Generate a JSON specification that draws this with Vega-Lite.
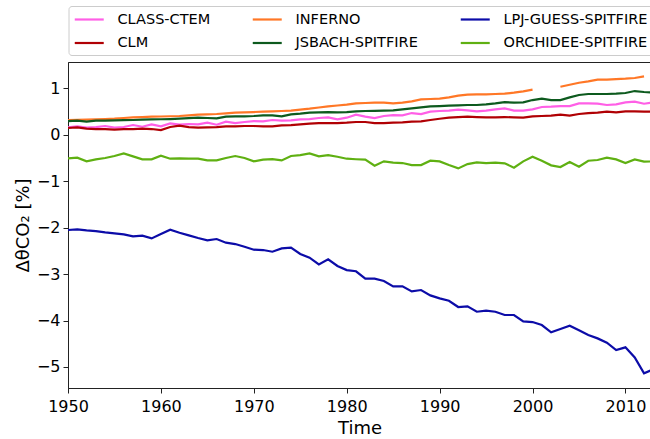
{
  "$schema": "https://vega.github.io/schema/vega-lite/v6.json",
  "width": 583,
  "height": 326,
  "autosize": {"type": "none"},
  "padding": {"left": 68, "top": 62, "right": 0, "bottom": 51},
  "background": "white",
  "config": {
    "font": "DejaVu Sans",
    "view": {"stroke": "#222", "strokeWidth": 1}
  },
  "data": {
    "values": [
      {"year": 1950, "CLASS-CTEM": 0.158, "CLM": 0.144, "INFERNO": 0.316, "JSBACH-SPITFIRE": 0.294, "LPJ-GUESS-SPITFIRE": -2.052, "ORCHIDEE-SPITFIRE": -0.510},
      {"year": 1951, "CLASS-CTEM": 0.179, "CLM": 0.158, "INFERNO": 0.320, "JSBACH-SPITFIRE": 0.301, "LPJ-GUESS-SPITFIRE": -2.038, "ORCHIDEE-SPITFIRE": -0.495},
      {"year": 1952, "CLASS-CTEM": 0.151, "CLM": 0.129, "INFERNO": 0.325, "JSBACH-SPITFIRE": 0.280, "LPJ-GUESS-SPITFIRE": -2.060, "ORCHIDEE-SPITFIRE": -0.574},
      {"year": 1953, "CLASS-CTEM": 0.165, "CLM": 0.122, "INFERNO": 0.330, "JSBACH-SPITFIRE": 0.301, "LPJ-GUESS-SPITFIRE": -2.074, "ORCHIDEE-SPITFIRE": -0.531},
      {"year": 1954, "CLASS-CTEM": 0.187, "CLM": 0.122, "INFERNO": 0.335, "JSBACH-SPITFIRE": 0.305, "LPJ-GUESS-SPITFIRE": -2.103, "ORCHIDEE-SPITFIRE": -0.502},
      {"year": 1955, "CLASS-CTEM": 0.151, "CLM": 0.108, "INFERNO": 0.344, "JSBACH-SPITFIRE": 0.309, "LPJ-GUESS-SPITFIRE": -2.124, "ORCHIDEE-SPITFIRE": -0.459},
      {"year": 1956, "CLASS-CTEM": 0.165, "CLM": 0.122, "INFERNO": 0.360, "JSBACH-SPITFIRE": 0.312, "LPJ-GUESS-SPITFIRE": -2.146, "ORCHIDEE-SPITFIRE": -0.402},
      {"year": 1957, "CLASS-CTEM": 0.208, "CLM": 0.122, "INFERNO": 0.373, "JSBACH-SPITFIRE": 0.316, "LPJ-GUESS-SPITFIRE": -2.189, "ORCHIDEE-SPITFIRE": -0.466},
      {"year": 1958, "CLASS-CTEM": 0.172, "CLM": 0.129, "INFERNO": 0.380, "JSBACH-SPITFIRE": 0.323, "LPJ-GUESS-SPITFIRE": -2.174, "ORCHIDEE-SPITFIRE": -0.531},
      {"year": 1959, "CLASS-CTEM": 0.222, "CLM": 0.122, "INFERNO": 0.388, "JSBACH-SPITFIRE": 0.330, "LPJ-GUESS-SPITFIRE": -2.232, "ORCHIDEE-SPITFIRE": -0.531},
      {"year": 1960, "CLASS-CTEM": 0.179, "CLM": 0.100, "INFERNO": 0.392, "JSBACH-SPITFIRE": 0.333, "LPJ-GUESS-SPITFIRE": -2.139, "ORCHIDEE-SPITFIRE": -0.452},
      {"year": 1961, "CLASS-CTEM": 0.244, "CLM": 0.165, "INFERNO": 0.397, "JSBACH-SPITFIRE": 0.337, "LPJ-GUESS-SPITFIRE": -2.045, "ORCHIDEE-SPITFIRE": -0.517},
      {"year": 1962, "CLASS-CTEM": 0.215, "CLM": 0.194, "INFERNO": 0.402, "JSBACH-SPITFIRE": 0.344, "LPJ-GUESS-SPITFIRE": -2.110, "ORCHIDEE-SPITFIRE": -0.510},
      {"year": 1963, "CLASS-CTEM": 0.230, "CLM": 0.165, "INFERNO": 0.417, "JSBACH-SPITFIRE": 0.355, "LPJ-GUESS-SPITFIRE": -2.167, "ORCHIDEE-SPITFIRE": -0.517},
      {"year": 1964, "CLASS-CTEM": 0.222, "CLM": 0.151, "INFERNO": 0.431, "JSBACH-SPITFIRE": 0.366, "LPJ-GUESS-SPITFIRE": -2.225, "ORCHIDEE-SPITFIRE": -0.517},
      {"year": 1965, "CLASS-CTEM": 0.258, "CLM": 0.158, "INFERNO": 0.438, "JSBACH-SPITFIRE": 0.359, "LPJ-GUESS-SPITFIRE": -2.275, "ORCHIDEE-SPITFIRE": -0.553},
      {"year": 1966, "CLASS-CTEM": 0.215, "CLM": 0.165, "INFERNO": 0.445, "JSBACH-SPITFIRE": 0.352, "LPJ-GUESS-SPITFIRE": -2.246, "ORCHIDEE-SPITFIRE": -0.553},
      {"year": 1967, "CLASS-CTEM": 0.280, "CLM": 0.179, "INFERNO": 0.460, "JSBACH-SPITFIRE": 0.388, "LPJ-GUESS-SPITFIRE": -2.325, "ORCHIDEE-SPITFIRE": -0.502},
      {"year": 1968, "CLASS-CTEM": 0.251, "CLM": 0.179, "INFERNO": 0.474, "JSBACH-SPITFIRE": 0.395, "LPJ-GUESS-SPITFIRE": -2.354, "ORCHIDEE-SPITFIRE": -0.459},
      {"year": 1969, "CLASS-CTEM": 0.273, "CLM": 0.187, "INFERNO": 0.481, "JSBACH-SPITFIRE": 0.395, "LPJ-GUESS-SPITFIRE": -2.411, "ORCHIDEE-SPITFIRE": -0.502},
      {"year": 1970, "CLASS-CTEM": 0.294, "CLM": 0.187, "INFERNO": 0.488, "JSBACH-SPITFIRE": 0.402, "LPJ-GUESS-SPITFIRE": -2.476, "ORCHIDEE-SPITFIRE": -0.574},
      {"year": 1971, "CLASS-CTEM": 0.287, "CLM": 0.179, "INFERNO": 0.495, "JSBACH-SPITFIRE": 0.416, "LPJ-GUESS-SPITFIRE": -2.483, "ORCHIDEE-SPITFIRE": -0.538},
      {"year": 1972, "CLASS-CTEM": 0.316, "CLM": 0.179, "INFERNO": 0.502, "JSBACH-SPITFIRE": 0.416, "LPJ-GUESS-SPITFIRE": -2.519, "ORCHIDEE-SPITFIRE": -0.524},
      {"year": 1973, "CLASS-CTEM": 0.301, "CLM": 0.201, "INFERNO": 0.510, "JSBACH-SPITFIRE": 0.395, "LPJ-GUESS-SPITFIRE": -2.447, "ORCHIDEE-SPITFIRE": -0.553},
      {"year": 1974, "CLASS-CTEM": 0.309, "CLM": 0.208, "INFERNO": 0.517, "JSBACH-SPITFIRE": 0.438, "LPJ-GUESS-SPITFIRE": -2.433, "ORCHIDEE-SPITFIRE": -0.459},
      {"year": 1975, "CLASS-CTEM": 0.330, "CLM": 0.222, "INFERNO": 0.540, "JSBACH-SPITFIRE": 0.452, "LPJ-GUESS-SPITFIRE": -2.569, "ORCHIDEE-SPITFIRE": -0.438},
      {"year": 1976, "CLASS-CTEM": 0.337, "CLM": 0.237, "INFERNO": 0.560, "JSBACH-SPITFIRE": 0.474, "LPJ-GUESS-SPITFIRE": -2.648, "ORCHIDEE-SPITFIRE": -0.402},
      {"year": 1977, "CLASS-CTEM": 0.359, "CLM": 0.251, "INFERNO": 0.585, "JSBACH-SPITFIRE": 0.481, "LPJ-GUESS-SPITFIRE": -2.792, "ORCHIDEE-SPITFIRE": -0.466},
      {"year": 1978, "CLASS-CTEM": 0.373, "CLM": 0.251, "INFERNO": 0.610, "JSBACH-SPITFIRE": 0.488, "LPJ-GUESS-SPITFIRE": -2.684, "ORCHIDEE-SPITFIRE": -0.438},
      {"year": 1979, "CLASS-CTEM": 0.330, "CLM": 0.251, "INFERNO": 0.628, "JSBACH-SPITFIRE": 0.481, "LPJ-GUESS-SPITFIRE": -2.827, "ORCHIDEE-SPITFIRE": -0.474},
      {"year": 1980, "CLASS-CTEM": 0.366, "CLM": 0.258, "INFERNO": 0.646, "JSBACH-SPITFIRE": 0.488, "LPJ-GUESS-SPITFIRE": -2.914, "ORCHIDEE-SPITFIRE": -0.517},
      {"year": 1981, "CLASS-CTEM": 0.430, "CLM": 0.273, "INFERNO": 0.675, "JSBACH-SPITFIRE": 0.502, "LPJ-GUESS-SPITFIRE": -2.940, "ORCHIDEE-SPITFIRE": -0.528},
      {"year": 1982, "CLASS-CTEM": 0.388, "CLM": 0.273, "INFERNO": 0.682, "JSBACH-SPITFIRE": 0.510, "LPJ-GUESS-SPITFIRE": -3.100, "ORCHIDEE-SPITFIRE": -0.538},
      {"year": 1983, "CLASS-CTEM": 0.359, "CLM": 0.251, "INFERNO": 0.689, "JSBACH-SPITFIRE": 0.514, "LPJ-GUESS-SPITFIRE": -3.100, "ORCHIDEE-SPITFIRE": -0.667},
      {"year": 1984, "CLASS-CTEM": 0.402, "CLM": 0.251, "INFERNO": 0.689, "JSBACH-SPITFIRE": 0.517, "LPJ-GUESS-SPITFIRE": -3.150, "ORCHIDEE-SPITFIRE": -0.574},
      {"year": 1985, "CLASS-CTEM": 0.423, "CLM": 0.258, "INFERNO": 0.675, "JSBACH-SPITFIRE": 0.524, "LPJ-GUESS-SPITFIRE": -3.265, "ORCHIDEE-SPITFIRE": -0.603},
      {"year": 1986, "CLASS-CTEM": 0.416, "CLM": 0.265, "INFERNO": 0.689, "JSBACH-SPITFIRE": 0.545, "LPJ-GUESS-SPITFIRE": -3.265, "ORCHIDEE-SPITFIRE": -0.610},
      {"year": 1987, "CLASS-CTEM": 0.466, "CLM": 0.280, "INFERNO": 0.718, "JSBACH-SPITFIRE": 0.567, "LPJ-GUESS-SPITFIRE": -3.373, "ORCHIDEE-SPITFIRE": -0.653},
      {"year": 1988, "CLASS-CTEM": 0.445, "CLM": 0.287, "INFERNO": 0.761, "JSBACH-SPITFIRE": 0.588, "LPJ-GUESS-SPITFIRE": -3.344, "ORCHIDEE-SPITFIRE": -0.653},
      {"year": 1989, "CLASS-CTEM": 0.495, "CLM": 0.316, "INFERNO": 0.768, "JSBACH-SPITFIRE": 0.610, "LPJ-GUESS-SPITFIRE": -3.459, "ORCHIDEE-SPITFIRE": -0.560},
      {"year": 1990, "CLASS-CTEM": 0.510, "CLM": 0.344, "INFERNO": 0.775, "JSBACH-SPITFIRE": 0.617, "LPJ-GUESS-SPITFIRE": -3.524, "ORCHIDEE-SPITFIRE": -0.574},
      {"year": 1991, "CLASS-CTEM": 0.517, "CLM": 0.366, "INFERNO": 0.804, "JSBACH-SPITFIRE": 0.624, "LPJ-GUESS-SPITFIRE": -3.574, "ORCHIDEE-SPITFIRE": -0.653},
      {"year": 1992, "CLASS-CTEM": 0.538, "CLM": 0.380, "INFERNO": 0.840, "JSBACH-SPITFIRE": 0.632, "LPJ-GUESS-SPITFIRE": -3.710, "ORCHIDEE-SPITFIRE": -0.725},
      {"year": 1993, "CLASS-CTEM": 0.524, "CLM": 0.388, "INFERNO": 0.861, "JSBACH-SPITFIRE": 0.639, "LPJ-GUESS-SPITFIRE": -3.696, "ORCHIDEE-SPITFIRE": -0.632},
      {"year": 1994, "CLASS-CTEM": 0.502, "CLM": 0.380, "INFERNO": 0.868, "JSBACH-SPITFIRE": 0.639, "LPJ-GUESS-SPITFIRE": -3.811, "ORCHIDEE-SPITFIRE": -0.596},
      {"year": 1995, "CLASS-CTEM": 0.517, "CLM": 0.373, "INFERNO": 0.868, "JSBACH-SPITFIRE": 0.653, "LPJ-GUESS-SPITFIRE": -3.789, "ORCHIDEE-SPITFIRE": -0.610},
      {"year": 1996, "CLASS-CTEM": 0.545, "CLM": 0.373, "INFERNO": 0.876, "JSBACH-SPITFIRE": 0.675, "LPJ-GUESS-SPITFIRE": -3.811, "ORCHIDEE-SPITFIRE": -0.603},
      {"year": 1997, "CLASS-CTEM": 0.567, "CLM": 0.380, "INFERNO": 0.883, "JSBACH-SPITFIRE": 0.703, "LPJ-GUESS-SPITFIRE": -3.882, "ORCHIDEE-SPITFIRE": -0.617},
      {"year": 1998, "CLASS-CTEM": 0.517, "CLM": 0.373, "INFERNO": 0.904, "JSBACH-SPITFIRE": 0.689, "LPJ-GUESS-SPITFIRE": -3.882, "ORCHIDEE-SPITFIRE": -0.710},
      {"year": 1999, "CLASS-CTEM": 0.517, "CLM": 0.366, "INFERNO": 0.933, "JSBACH-SPITFIRE": 0.696, "LPJ-GUESS-SPITFIRE": -4.019, "ORCHIDEE-SPITFIRE": -0.574},
      {"year": 2000, "CLASS-CTEM": 0.545, "CLM": 0.395, "INFERNO": 0.969, "JSBACH-SPITFIRE": 0.746, "LPJ-GUESS-SPITFIRE": -4.033, "ORCHIDEE-SPITFIRE": -0.474},
      {"year": 2001, "CLASS-CTEM": 0.596, "CLM": 0.402, "INFERNO": null, "JSBACH-SPITFIRE": 0.775, "LPJ-GUESS-SPITFIRE": -4.098, "ORCHIDEE-SPITFIRE": -0.560},
      {"year": 2002, "CLASS-CTEM": 0.603, "CLM": 0.409, "INFERNO": null, "JSBACH-SPITFIRE": 0.746, "LPJ-GUESS-SPITFIRE": -4.255, "ORCHIDEE-SPITFIRE": -0.660},
      {"year": 2003, "CLASS-CTEM": 0.617, "CLM": 0.431, "INFERNO": 1.033, "JSBACH-SPITFIRE": 0.746, "LPJ-GUESS-SPITFIRE": -4.184, "ORCHIDEE-SPITFIRE": -0.696},
      {"year": 2004, "CLASS-CTEM": 0.617, "CLM": 0.409, "INFERNO": 1.076, "JSBACH-SPITFIRE": 0.804, "LPJ-GUESS-SPITFIRE": -4.112, "ORCHIDEE-SPITFIRE": -0.588},
      {"year": 2005, "CLASS-CTEM": 0.675, "CLM": 0.445, "INFERNO": 1.119, "JSBACH-SPITFIRE": 0.854, "LPJ-GUESS-SPITFIRE": -4.212, "ORCHIDEE-SPITFIRE": -0.689},
      {"year": 2006, "CLASS-CTEM": 0.675, "CLM": 0.466, "INFERNO": 1.148, "JSBACH-SPITFIRE": 0.876, "LPJ-GUESS-SPITFIRE": -4.313, "ORCHIDEE-SPITFIRE": -0.560},
      {"year": 2007, "CLASS-CTEM": 0.667, "CLM": 0.474, "INFERNO": 1.184, "JSBACH-SPITFIRE": 0.876, "LPJ-GUESS-SPITFIRE": -4.385, "ORCHIDEE-SPITFIRE": -0.545},
      {"year": 2008, "CLASS-CTEM": 0.639, "CLM": 0.495, "INFERNO": 1.184, "JSBACH-SPITFIRE": 0.876, "LPJ-GUESS-SPITFIRE": -4.478, "ORCHIDEE-SPITFIRE": -0.495},
      {"year": 2009, "CLASS-CTEM": 0.653, "CLM": 0.481, "INFERNO": 1.198, "JSBACH-SPITFIRE": 0.883, "LPJ-GUESS-SPITFIRE": -4.636, "ORCHIDEE-SPITFIRE": -0.531},
      {"year": 2010, "CLASS-CTEM": 0.696, "CLM": 0.502, "INFERNO": 1.206, "JSBACH-SPITFIRE": 0.897, "LPJ-GUESS-SPITFIRE": -4.578, "ORCHIDEE-SPITFIRE": -0.610},
      {"year": 2011, "CLASS-CTEM": 0.710, "CLM": 0.502, "INFERNO": 1.220, "JSBACH-SPITFIRE": 0.940, "LPJ-GUESS-SPITFIRE": -4.794, "ORCHIDEE-SPITFIRE": -0.531},
      {"year": 2012, "CLASS-CTEM": 0.667, "CLM": 0.495, "INFERNO": 1.256, "JSBACH-SPITFIRE": 0.919, "LPJ-GUESS-SPITFIRE": -5.138, "ORCHIDEE-SPITFIRE": -0.581},
      {"year": 2013, "CLASS-CTEM": 0.696, "CLM": 0.495, "INFERNO": null, "JSBACH-SPITFIRE": 0.904, "LPJ-GUESS-SPITFIRE": -5.052, "ORCHIDEE-SPITFIRE": -0.574}
    ]
  },
  "transform": [
    {"fold": ["CLASS-CTEM", "CLM", "INFERNO", "JSBACH-SPITFIRE", "LPJ-GUESS-SPITFIRE", "ORCHIDEE-SPITFIRE"], "as": ["model", "value"]}
  ],
  "mark": {"type": "line", "strokeWidth": 2.2, "clip": true, "invalid": "break-paths-filter-domains"},
  "encoding": {
    "x": {
      "field": "year",
      "type": "quantitative",
      "scale": {"domain": [1950, 2012.75], "nice": false, "zero": false},
      "axis": {
        "values": [1950, 1960, 1970, 1980, 1990, 2000, 2010],
        "format": "d",
        "grid": false,
        "labelFlush": false,
        "labelFontSize": 16,
        "labelColor": "#000",
        "labelPadding": 5,
        "tickColor": "#222",
        "tickSize": 5,
        "domainColor": "#222",
        "title": "Time",
        "titleFontSize": 18,
        "titleFontWeight": "normal",
        "titleColor": "#000",
        "titlePadding": 5
      }
    },
    "y": {
      "field": "value",
      "type": "quantitative",
      "scale": {"domain": [-5.453, 1.565], "nice": false, "zero": false},
      "axis": {
        "values": [-5, -4, -3, -2, -1, 0, 1],
        "format": "d",
        "grid": false,
        "labelFlush": false,
        "labelFontSize": 16,
        "labelColor": "#000",
        "labelPadding": 3,
        "tickColor": "#222",
        "tickSize": 5,
        "domainColor": "#222",
        "title": "ΔθCO₂ [%]",
        "titleFontSize": 18,
        "titleFontWeight": "normal",
        "titleColor": "#000",
        "titlePadding": 4
      }
    },
    "color": {
      "field": "model",
      "type": "nominal",
      "scale": {
        "domain": ["CLASS-CTEM", "CLM", "INFERNO", "JSBACH-SPITFIRE", "LPJ-GUESS-SPITFIRE", "ORCHIDEE-SPITFIRE"],
        "range": ["#ff5fe6", "#b00004", "#ff7726", "#0d5a1e", "#0c0ca8", "#5fb012"]
      },
      "legend": {
        "orient": "none",
        "legendX": 0.5,
        "legendY": -56,
        "columns": 3,
        "title": null,
        "symbolType": "M-1,0H3",
        "symbolSize": 210,
        "symbolStrokeWidth": 2.2,
        "labelFont": "DejaVu Sans",
        "labelFontSize": 14.5,
        "labelColor": "#000",
        "labelOffset": 27,
        "labelLimit": 300,
        "columnPadding": 37,
        "rowPadding": 8.5,
        "padding": 5,
        "strokeColor": "#cccccc",
        "fillColor": "white",
        "cornerRadius": 3
      }
    }
  }
}
